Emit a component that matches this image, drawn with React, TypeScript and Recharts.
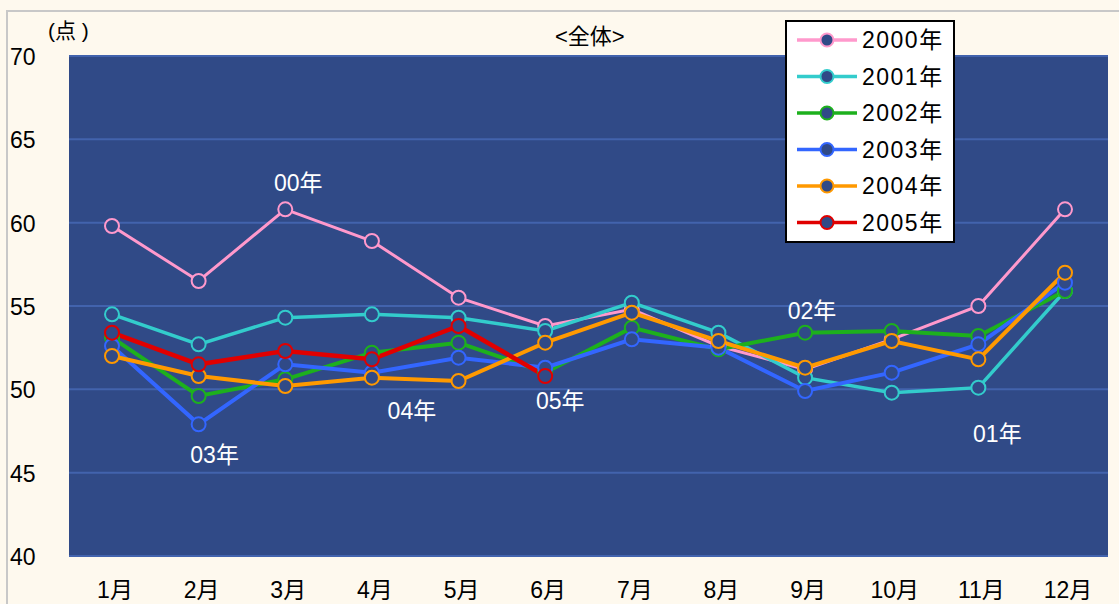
import { CartesianGrid, LabelList, Line, LineChart, XAxis, YAxis } from "recharts";

const months = ["1月", "2月", "3月", "4月", "5月", "6月", "7月", "8月", "9月", "10月", "11月", "12月"];
const y2000 = [59.8, 56.5, 60.8, 58.9, 55.5, 53.8, 54.8, 52.6, 51.2, 53.0, 55.0, 60.8];
const y2001 = [54.5, 52.7, 54.3, 54.5, 54.3, 53.5, 55.2, 53.4, 50.7, 49.8, 50.1, 55.9];
const y2002 = [53.1, 49.6, 50.6, 52.2, 52.8, 51.0, 53.7, 52.4, 53.4, 53.5, 53.2, 55.9];
const y2003 = [52.6, 47.9, 51.5, 51.0, 51.9, 51.3, 53.0, 52.5, 49.9, 51.0, 52.7, 56.4];
const y2004 = [52.0, 50.8, 50.2, 50.7, 50.5, 52.8, 54.6, 52.9, 51.3, 52.9, 51.8, 57.0];
const y2005 = [53.4, 51.5, 52.3, 51.8, 53.8, 50.8, null, null, null, null, null, null];
const yTicks = [40, 45, 50, 55, 60, 65, 70];

const SERIES = [
  { key: "y2000", name: "2000年", color: "#ff99cc", width: 3 },
  { key: "y2001", name: "2001年", color: "#33cccc", width: 3.5 },
  { key: "y2002", name: "2002年", color: "#1db01d", width: 4 },
  { key: "y2003", name: "2003年", color: "#3366ff", width: 4 },
  { key: "y2004", name: "2004年", color: "#ff9900", width: 4 },
  { key: "y2005", name: "2005年", color: "#e00000", width: 4.5 },
];

// year callouts, tied to one point of a series
const NOTES = [
  { key: "y2000", index: 2, text: "00年", dx: 13, dy: -24 },
  { key: "y2003", index: 1, text: "03年", dx: 16, dy: 33 },
  { key: "y2004", index: 3, text: "04年", dx: 40, dy: 35 },
  { key: "y2005", index: 5, text: "05年", dx: 15, dy: 27 },
  { key: "y2002", index: 8, text: "02年", dx: 7, dy: -20 },
  { key: "y2001", index: 10, text: "01年", dx: 19, dy: 48 },
];

const data = months.map((m, i) => ({
  month: m,
  y2000: y2000[i],
  y2001: y2001[i],
  y2002: y2002[i],
  y2003: y2003[i],
  y2004: y2004[i],
  y2005: y2005[i],
}));

const FONT = "'Liberation Sans', 'Noto Sans CJK JP', sans-serif";
const PLOT_BG = "#304a87";

function YTick({ y, payload }: any) {
  return (
    <text x={10} y={y} dy={9} fontSize={23} fill="#000" fontFamily={FONT}>
      {payload.value}
    </text>
  );
}

function XTick({ x, y, payload }: any) {
  return (
    <text x={x + 3} y={y} dy={34} fontSize={23} fill="#000" textAnchor="middle" fontFamily={FONT}>
      {payload.value}
    </text>
  );
}

function noteLabel(seriesKey: string) {
  return (props: any) => {
    const n = NOTES.find((a) => a.key === seriesKey && a.index === props.index);
    if (!n || props.x == null) return null;
    return (
      <text
        x={props.x + n.dx}
        y={props.y + n.dy}
        textAnchor="middle"
        dominantBaseline="middle"
        fontSize={23}
        fill="#fff"
        fontFamily={FONT}
      >
        {n.text}
      </text>
    );
  };
}

function LegendBox() {
  return (
    <div
      style={{
        position: "absolute",
        left: 785,
        top: 20,
        width: 166,
        height: 219,
        background: "#fff",
        border: "2px solid #000",
        fontFamily: FONT,
      }}
    >
      <svg width={166} height={219}>
        {SERIES.map((s, i) => {
          const cy = 18 + i * 36.5;
          return (
            <g key={s.key}>
              <line x1={10} x2={70} y1={cy} y2={cy} stroke={s.color} strokeWidth={3.5} />
              <circle cx={40} cy={cy} r={6.5} fill={PLOT_BG} stroke={s.color} strokeWidth={2} />
              <text x={75} y={cy} dy={8} fontSize={23} fill="#000" letterSpacing={1.5}>
                {s.name}
              </text>
            </g>
          );
        })}
      </svg>
    </div>
  );
}

export default function App() {
  return (
    <div
      style={{
        position: "absolute",
        left: 0,
        top: 0,
        width: 1119,
        height: 604,
        background: "#fef9ee",
        overflow: "hidden",
        fontFamily: FONT,
      }}
    >
      <div
        style={{
          position: "absolute",
          left: 6,
          top: 10,
          width: 1130,
          height: 620,
          border: "2px solid #c8c8c8",
          boxSizing: "border-box",
        }}
      />
      <LineChart
        width={1119}
        height={604}
        data={data}
        margin={{ top: 56, right: 11, bottom: 0, left: 0 }}
        style={{ position: "absolute", left: 0, top: 0 }}
      >
        <CartesianGrid vertical={false} fill={PLOT_BG} stroke="#4263ad" strokeWidth={2} />
        <XAxis
          dataKey="month"
          padding={{ left: 43, right: 43 }}
          axisLine={false}
          tickLine={false}
          tick={<XTick />}
          height={48}
          interval={0}
        />
        <YAxis
          domain={[40, 70]}
          ticks={yTicks}
          axisLine={false}
          tickLine={false}
          tick={<YTick />}
          width={69}
          interval={0}
        />
        {SERIES.map((s) => (
          <Line
            key={s.key}
            dataKey={s.key}
            name={s.name}
            stroke={s.color}
            strokeWidth={s.width}
            dot={{ r: 7, fill: PLOT_BG, stroke: s.color, strokeWidth: 2 }}
            activeDot={false}
            isAnimationActive={false}
            connectNulls={false}
          >
            <LabelList dataKey={s.key} content={noteLabel(s.key)} />
          </Line>
        ))}
      </LineChart>
      <div style={{ position: "absolute", left: 48, top: 14, fontSize: 21, color: "#000" }}>(点 )</div>
      <div style={{ position: "absolute", left: 555, top: 18, fontSize: 22, color: "#000" }}>&lt;全体&gt;</div>
      <LegendBox />
    </div>
  );
}
